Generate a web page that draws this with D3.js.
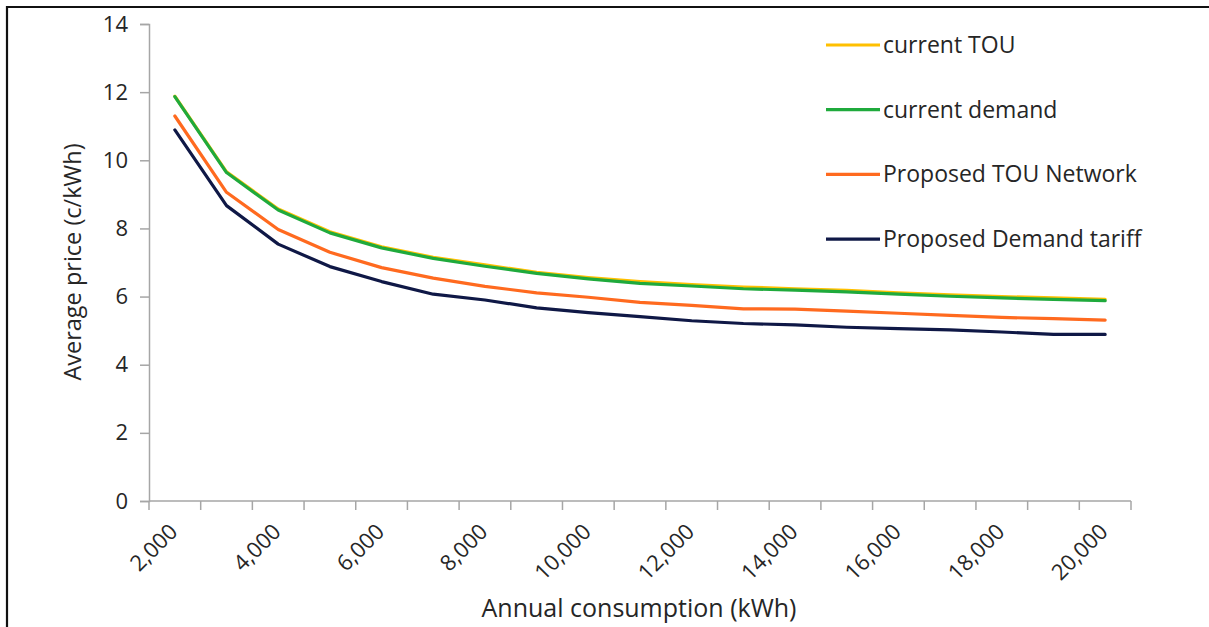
<!DOCTYPE html>
<html>
<head>
<meta charset="utf-8">
<script src="https://cdn.jsdelivr.net/npm/d3@7"></script>
<style>
  html, body { margin: 0; padding: 0; background: #fff; }
  svg { display: block; font-family: "Open Sans", Lato, sans-serif; }
</style>
</head>
<body>
<svg id="chart" width="1209" height="627"></svg>
<script>
// Annual consumption categories (kWh)
const consumption = [2000, 3000, 4000, 5000, 6000, 7000, 8000, 9000, 10000, 11000,
                     12000, 13000, 14000, 15000, 16000, 17000, 18000, 19000, 20000];

// Average price (c/kWh) per tariff
const currentTOU      = [11.88, 9.66, 8.57, 7.90, 7.46, 7.15, 6.93, 6.71, 6.56, 6.44,
                         6.35, 6.28, 6.23, 6.18, 6.11, 6.05, 6.00, 5.96, 5.92];
const currentDemand   = [11.87, 9.64, 8.54, 7.87, 7.43, 7.12, 6.89, 6.68, 6.52, 6.39,
                         6.31, 6.23, 6.19, 6.14, 6.07, 6.01, 5.96, 5.92, 5.88];
const proposedTOU     = [11.30, 9.06, 7.97, 7.30, 6.85, 6.54, 6.30, 6.11, 5.98, 5.83,
                         5.74, 5.64, 5.63, 5.57, 5.51, 5.45, 5.39, 5.35, 5.31];
const proposedDemand  = [10.89, 8.67, 7.54, 6.88, 6.44, 6.07, 5.90, 5.67, 5.53, 5.41,
                         5.29, 5.21, 5.17, 5.10, 5.06, 5.02, 4.96, 4.89, 4.89];

const seriesNames  = ["current TOU", "current demand", "Proposed TOU Network", "Proposed Demand tariff"];
const seriesColors = ["#FFC000", "#1FAA3C", "#FF6A1F", "#0F1846"];
const yTicks = [0, 2, 4, 6, 8, 10, 12, 14];

const series = [currentTOU, currentDemand, proposedTOU, proposedDemand].map((values, i) => ({
  name: seriesNames[i],
  color: seriesColors[i],
  values
}));

const svg = d3.select("#chart");
const plot = { left: 149, right: 1131, top: 24, bottom: 501 };

// Outer frame (top and left edges)
svg.append("path")
  .attr("d", "M7,627 V7 H1209")
  .attr("fill", "none")
  .attr("stroke", "#111")
  .attr("stroke-width", 2.2);

const x = d3.scaleBand()
  .domain(consumption)
  .range([plot.left, plot.right])
  .paddingInner(0)
  .paddingOuter(0);

const y = d3.scaleLinear()
  .domain([0, 14])
  .range([plot.bottom, plot.top]);

const axisColor = "#a6a6a6";
const textColor = "#262626";

// Y axis
const yAxis = svg.append("g")
  .attr("transform", `translate(${plot.left},0)`)
  .call(d3.axisLeft(y).tickValues(yTicks).tickSize(9).tickPadding(12).tickFormat(d3.format("d")));
yAxis.select(".domain").attr("stroke", axisColor).attr("stroke-width", 1.5);
yAxis.selectAll(".tick line").attr("stroke", axisColor).attr("stroke-width", 1.5);
yAxis.selectAll(".tick text")
  .attr("fill", textColor)
  .style("font-size", "22px")
  .style("font-family", "'Open Sans', sans-serif");

// X axis: ticks on category boundaries, labels on every other category
const boundaries = d3.range(consumption.length + 1).map(i => plot.left + i * x.bandwidth());
const xAxisG = svg.append("g");
xAxisG.append("line")
  .attr("x1", plot.left).attr("x2", plot.right)
  .attr("y1", plot.bottom).attr("y2", plot.bottom)
  .attr("stroke", axisColor).attr("stroke-width", 1.5);
xAxisG.selectAll("line.tick")
  .data(boundaries)
  .join("line")
  .attr("class", "tick")
  .attr("x1", d => d).attr("x2", d => d)
  .attr("y1", plot.bottom).attr("y2", plot.bottom + 9)
  .attr("stroke", axisColor).attr("stroke-width", 1.5);

const fmt = d3.format(",");
xAxisG.selectAll("text")
  .data(consumption.filter((d, i) => i % 2 === 0))
  .join("text")
  .attr("transform", d => `translate(${x(d) + x.bandwidth() / 2 + 4},${plot.bottom + 32}) rotate(-45)`)
  .attr("text-anchor", "end")
  .attr("fill", textColor)
  .style("font-size", "22px")
  .text(d => fmt(d));

// Axis titles
svg.append("text")
  .attr("transform", `translate(${81},${262}) rotate(-90)`)
  .attr("text-anchor", "middle")
  .attr("fill", textColor)
  .style("font-size", "23.5px")
  .text("Average price (c/kWh)");

svg.append("text")
  .attr("x", 639)
  .attr("y", 617)
  .attr("text-anchor", "middle")
  .attr("fill", textColor)
  .style("font-size", "25px")
  .text("Annual consumption (kWh)");

// Lines
const line = d3.line()
  .x((d, i) => x(consumption[i]) + x.bandwidth() / 2)
  .y(d => y(d));

svg.append("g")
  .selectAll("path")
  .data(series)
  .join("path")
  .attr("d", d => line(d.values))
  .attr("fill", "none")
  .attr("stroke", d => d.color)
  .attr("stroke-width", 3.2)
  .attr("stroke-linejoin", "round")
  .attr("stroke-linecap", "round");

// Legend
const legend = svg.append("g").attr("transform", "translate(826,45)");
const item = legend.selectAll("g")
  .data(series)
  .join("g")
  .attr("transform", (d, i) => `translate(0,${i * 64.7})`);
item.append("line")
  .attr("x1", 0).attr("x2", 54)
  .attr("stroke", d => d.color)
  .attr("stroke-width", 3.2);
item.append("text")
  .attr("x", 57)
  .attr("dy", "0.35em")
  .attr("fill", textColor)
  .style("font-size", "23px")
  .text(d => d.name);
</script>
</body>
</html>
